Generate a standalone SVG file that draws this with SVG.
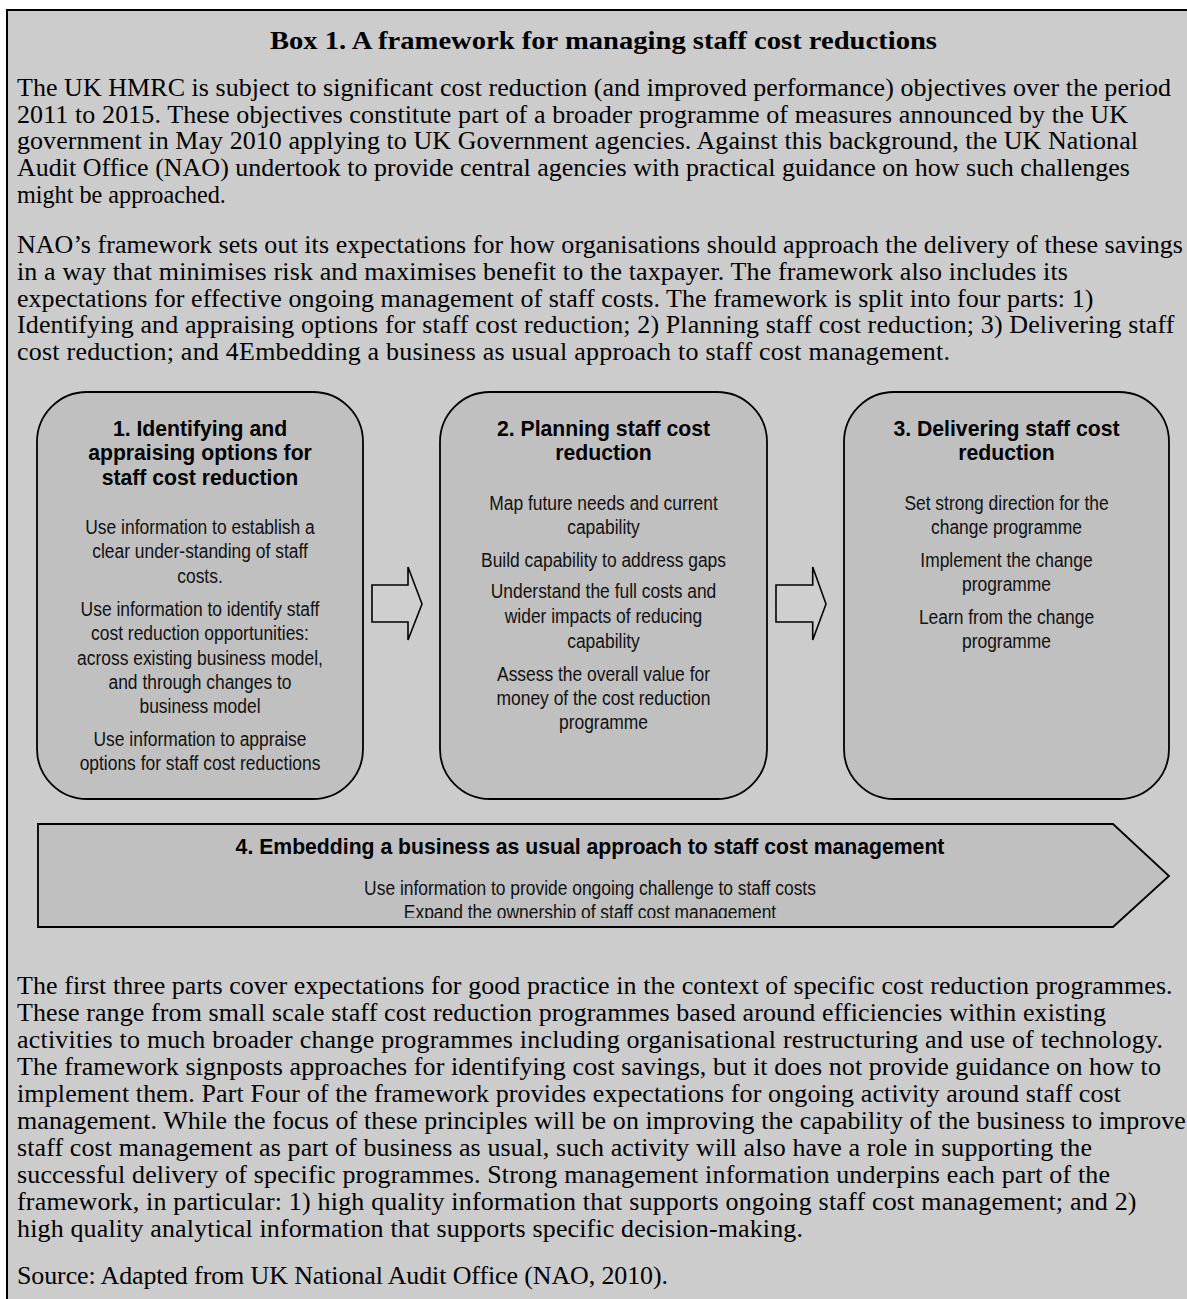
<svg xmlns="http://www.w3.org/2000/svg" width="1187" height="1299" viewBox="0 0 1187 1299">
<defs>
<style>
.serif{font-family:"Liberation Serif","Times New Roman",serif;font-size:25px;fill:#000}
.stitle{font-family:"Liberation Serif","Times New Roman",serif;font-size:25px;font-weight:bold;fill:#000}
.ht{font-family:"Liberation Sans",Arial,sans-serif;font-size:21.2px;font-weight:bold;fill:#000;text-anchor:middle}
.bt{font-family:"Liberation Sans",Arial,sans-serif;font-size:21px;fill:#111;text-anchor:middle}
.box{fill:#c0c0c0;stroke:#000;stroke-width:1.8}
.arrow{fill:#cfcfcf;stroke:#000;stroke-width:1.6}
</style>
<clipPath id="clip4"><rect x="38" y="824" width="1130" height="94"/></clipPath>
</defs>
<rect x="0" y="0" width="1187" height="1299" fill="#ffffff"/>
<rect x="7" y="10" width="1180" height="1289" fill="#cccccc"/>
<line x1="6" y1="10" x2="1187" y2="10" stroke="#000" stroke-width="2"/>
<line x1="7" y1="9" x2="7" y2="1299" stroke="#000" stroke-width="2"/>

<text class="stitle" x="603.5" y="49" text-anchor="middle" textLength="667" lengthAdjust="spacingAndGlyphs">Box 1. A framework for managing staff cost reductions</text>

<g transform="translate(17,0) scale(1.039,1)">
<text class="serif" x="0" y="96" textLength="1110.7" lengthAdjust="spacing">The UK HMRC is subject to significant cost reduction (and improved performance) objectives over the period</text>
<text class="serif" x="0" y="122.7" textLength="1069.3" lengthAdjust="spacing">2011 to 2015. These objectives constitute part of a broader programme of measures announced by the UK</text>
<text class="serif" x="0" y="149.3" textLength="1078.9" lengthAdjust="spacing">government in May 2010 applying to UK Government agencies. Against this background, the UK National</text>
<text class="serif" x="0" y="176" textLength="1071.2" lengthAdjust="spacing">Audit Office (NAO) undertook to provide central agencies with practical guidance on how such challenges</text>
<text class="serif" x="0" y="202.7" textLength="201" lengthAdjust="spacingAndGlyphs">might be approached.</text>

<text class="serif" x="0" y="253.3" textLength="1122.2" lengthAdjust="spacing">NAO’s framework sets out its expectations for how organisations should approach the delivery of these savings</text>
<text class="serif" x="0" y="280" textLength="1011.5" lengthAdjust="spacing">in a way that minimises risk and maximises benefit to the taxpayer. The framework also includes its</text>
<text class="serif" x="0" y="306.7" textLength="1036" lengthAdjust="spacing">expectations for effective ongoing management of staff costs. The framework is split into four parts: 1)</text>
<text class="serif" x="0" y="333.3" textLength="1114" lengthAdjust="spacing">Identifying and appraising options for staff cost reduction; 2) Planning staff cost reduction; 3) Delivering staff</text>
<text class="serif" x="0" y="360" textLength="898" lengthAdjust="spacing">cost reduction; and 4Embedding a business as usual approach to staff cost management.</text>

<text class="serif" x="0" y="994" textLength="1112.2" lengthAdjust="spacing">The first three parts cover expectations for good practice in the context of specific cost reduction programmes.</text>
<text class="serif" x="0" y="1021" textLength="1048.1" lengthAdjust="spacing">These range from small scale staff cost reduction programmes based around efficiencies within existing</text>
<text class="serif" x="0" y="1048" textLength="1103" lengthAdjust="spacing">activities to much broader change programmes including organisational restructuring and use of technology.</text>
<text class="serif" x="0" y="1075" textLength="1101" lengthAdjust="spacing">The framework signposts approaches for identifying cost savings, but it does not provide guidance on how to</text>
<text class="serif" x="0" y="1102" textLength="1062.6" lengthAdjust="spacing">implement them. Part Four of the framework provides expectations for ongoing activity around staff cost</text>
<text class="serif" x="0" y="1129" textLength="1125" lengthAdjust="spacing">management. While the focus of these principles will be on improving the capability of the business to improve</text>
<text class="serif" x="0" y="1156" textLength="1034.6" lengthAdjust="spacing">staff cost management as part of business as usual, such activity will also have a role in supporting the</text>
<text class="serif" x="0" y="1183" textLength="1052" lengthAdjust="spacing">successful delivery of specific programmes. Strong management information underpins each part of the</text>
<text class="serif" x="0" y="1210" textLength="1077.5" lengthAdjust="spacing">framework, in particular: 1) high quality information that supports ongoing staff cost management; and 2)</text>
<text class="serif" x="0" y="1237" textLength="756.5" lengthAdjust="spacing">high quality analytical information that supports specific decision-making.</text>
<text class="serif" x="0" y="1284" textLength="626.6" lengthAdjust="spacing">Source: Adapted from UK National Audit Office (NAO, 2010).</text>
</g>

<g id="connectors">
<polygon class="arrow" points="372,585 408,585 408,567 422,604 408,640 408,622 372,622"/>
<polygon class="arrow" points="776,585 812.7,585 812.7,567 826,604 812.7,640 812.7,622 776,622"/>
</g>

<g id="node1">
<rect class="box" x="37" y="392" width="326" height="407" rx="50" ry="50"/>
<text class="ht" x="200" y="435.7">1. Identifying and</text>
<text class="ht" x="200" y="460.3">appraising options for</text>
<text class="ht" x="200" y="485">staff cost reduction</text>
<g transform="translate(200,0) scale(0.83,1)">
<text class="bt" x="0" y="534">Use information to establish a</text>
<text class="bt" x="0" y="558.5">clear under-standing of staff</text>
<text class="bt" x="0" y="583">costs.</text>
<text class="bt" x="0" y="615.7">Use information to identify staff</text>
<text class="bt" x="0" y="640">cost reduction opportunities:</text>
<text class="bt" x="0" y="664.7">across existing business model,</text>
<text class="bt" x="0" y="689.2">and through changes to</text>
<text class="bt" x="0" y="713.5">business model</text>
<text class="bt" x="0" y="746">Use information to appraise</text>
<text class="bt" x="0" y="770.3">options for staff cost reductions</text>
</g>
</g>

<g id="node2">
<rect class="box" x="440" y="392" width="327" height="407" rx="50" ry="50"/>
<text class="ht" x="603.5" y="435.7">2. Planning staff cost</text>
<text class="ht" x="603.5" y="460.2">reduction</text>
<g transform="translate(603.5,0) scale(0.83,1)">
<text class="bt" x="0" y="510">Map future needs and current</text>
<text class="bt" x="0" y="534.3">capability</text>
<text class="bt" x="0" y="567">Build capability to address gaps</text>
<text class="bt" x="0" y="598.5">Understand the full costs and</text>
<text class="bt" x="0" y="623.2">wider impacts of reducing</text>
<text class="bt" x="0" y="647.7">capability</text>
<text class="bt" x="0" y="680.7">Assess the overall value for</text>
<text class="bt" x="0" y="705">money of the cost reduction</text>
<text class="bt" x="0" y="729.5">programme</text>
</g>
</g>

<g id="node3">
<rect class="box" x="844" y="392" width="325" height="407" rx="50" ry="50"/>
<text class="ht" x="1006.5" y="435.7">3. Delivering staff cost</text>
<text class="ht" x="1006.5" y="460.2">reduction</text>
<g transform="translate(1006.5,0) scale(0.83,1)">
<text class="bt" x="0" y="510">Set strong direction for the</text>
<text class="bt" x="0" y="534.3">change programme</text>
<text class="bt" x="0" y="567">Implement the change</text>
<text class="bt" x="0" y="591.5">programme</text>
<text class="bt" x="0" y="624">Learn from the change</text>
<text class="bt" x="0" y="648.3">programme</text>
</g>
</g>

<g id="node4">
<polygon class="box" points="38,824 1113,824 1169,876 1113,927 38,927"/>
<text class="ht" x="590" y="854.3">4. Embedding a business as usual approach to staff cost management</text>
<g clip-path="url(#clip4)">
<g transform="translate(590,0) scale(0.83,1)">
<text class="bt" x="0" y="895">Use information to provide ongoing challenge to staff costs</text>
<text class="bt" x="0" y="919.5">Expand the ownership of staff cost management</text>
</g>
</g>
</g>
</svg>
